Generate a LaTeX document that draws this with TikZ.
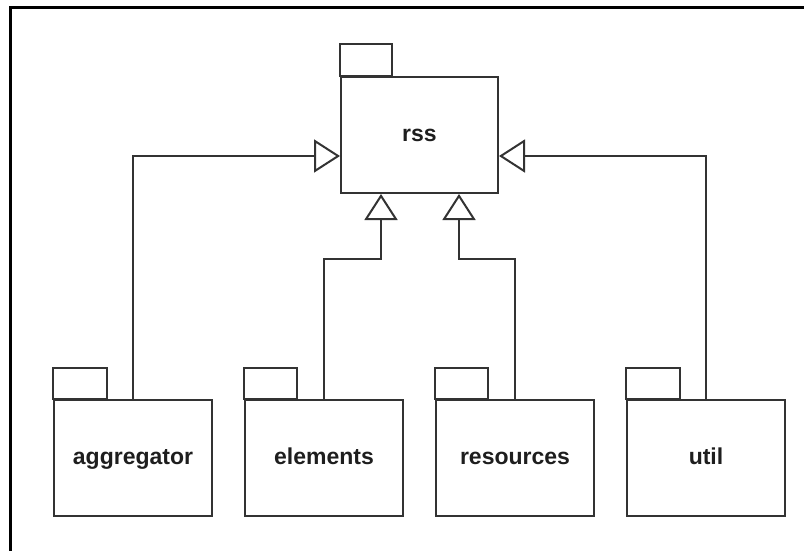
\documentclass[tikz,border=0pt]{standalone}
\usepackage{fontspec}
\setmainfont{Liberation Sans}
\usetikzlibrary{arrows.meta,calc}
\definecolor{linec}{HTML}{333333}
\definecolor{textc}{HTML}{1E1E1E}
\tikzset{
  pkg/.style={draw=linec, line width=2pt, minimum width=158pt, minimum height=116pt,
    inner sep=0pt, text height=17pt, text depth=5pt, text=textc,
    font=\fontsize{23}{27}\selectfont\bfseries},
  tabbox/.style={draw=linec, line width=2pt},
  gen/.style={draw=linec, line width=2pt, -{Triangle[open, length=26pt, width=33pt, line width=2pt]}},
  frame/.style={draw=black, line width=3pt}
}
\begin{document}
\begin{tikzpicture}[x=1pt, y=-1pt]
\useasboundingbox (0,0) rectangle (804,550);
\draw[frame] (10,551) -- (10,7) -- (805,7);
% packages
\node[pkg, minimum width=157pt] (rss) at (419.5,135) {rss};
\node[pkg] (agg)  at (133,458) {aggregator};
\node[pkg] (elem) at (324,458) {elements};
\node[pkg] (res)  at (515,458) {resources};
\node[pkg] (util) at (706,458) {util};
% tabs
\draw[tabbox] (rss.north west) rectangle ++(52,-32);
\draw[tabbox] (agg.north west) rectangle ++(54,-31);
\draw[tabbox] (elem.north west) rectangle ++(53,-31);
\draw[tabbox] (res.north west) rectangle ++(53,-31);
\draw[tabbox] (util.north west) rectangle ++(54,-31);
% generalizations
\draw[gen] (agg.north) |- ($(rss.west)+(0,21)$);
\draw[gen] (util.north) |- ($(rss.east)+(0,21)$);
\draw[gen] (elem.north) -- ++(0,-140) -| ($(rss.south)+(-38.5,0)$);
\draw[gen] (res.north) -- ++(0,-140) -| ($(rss.south)+(39.5,0)$);
\end{tikzpicture}
\end{document}
